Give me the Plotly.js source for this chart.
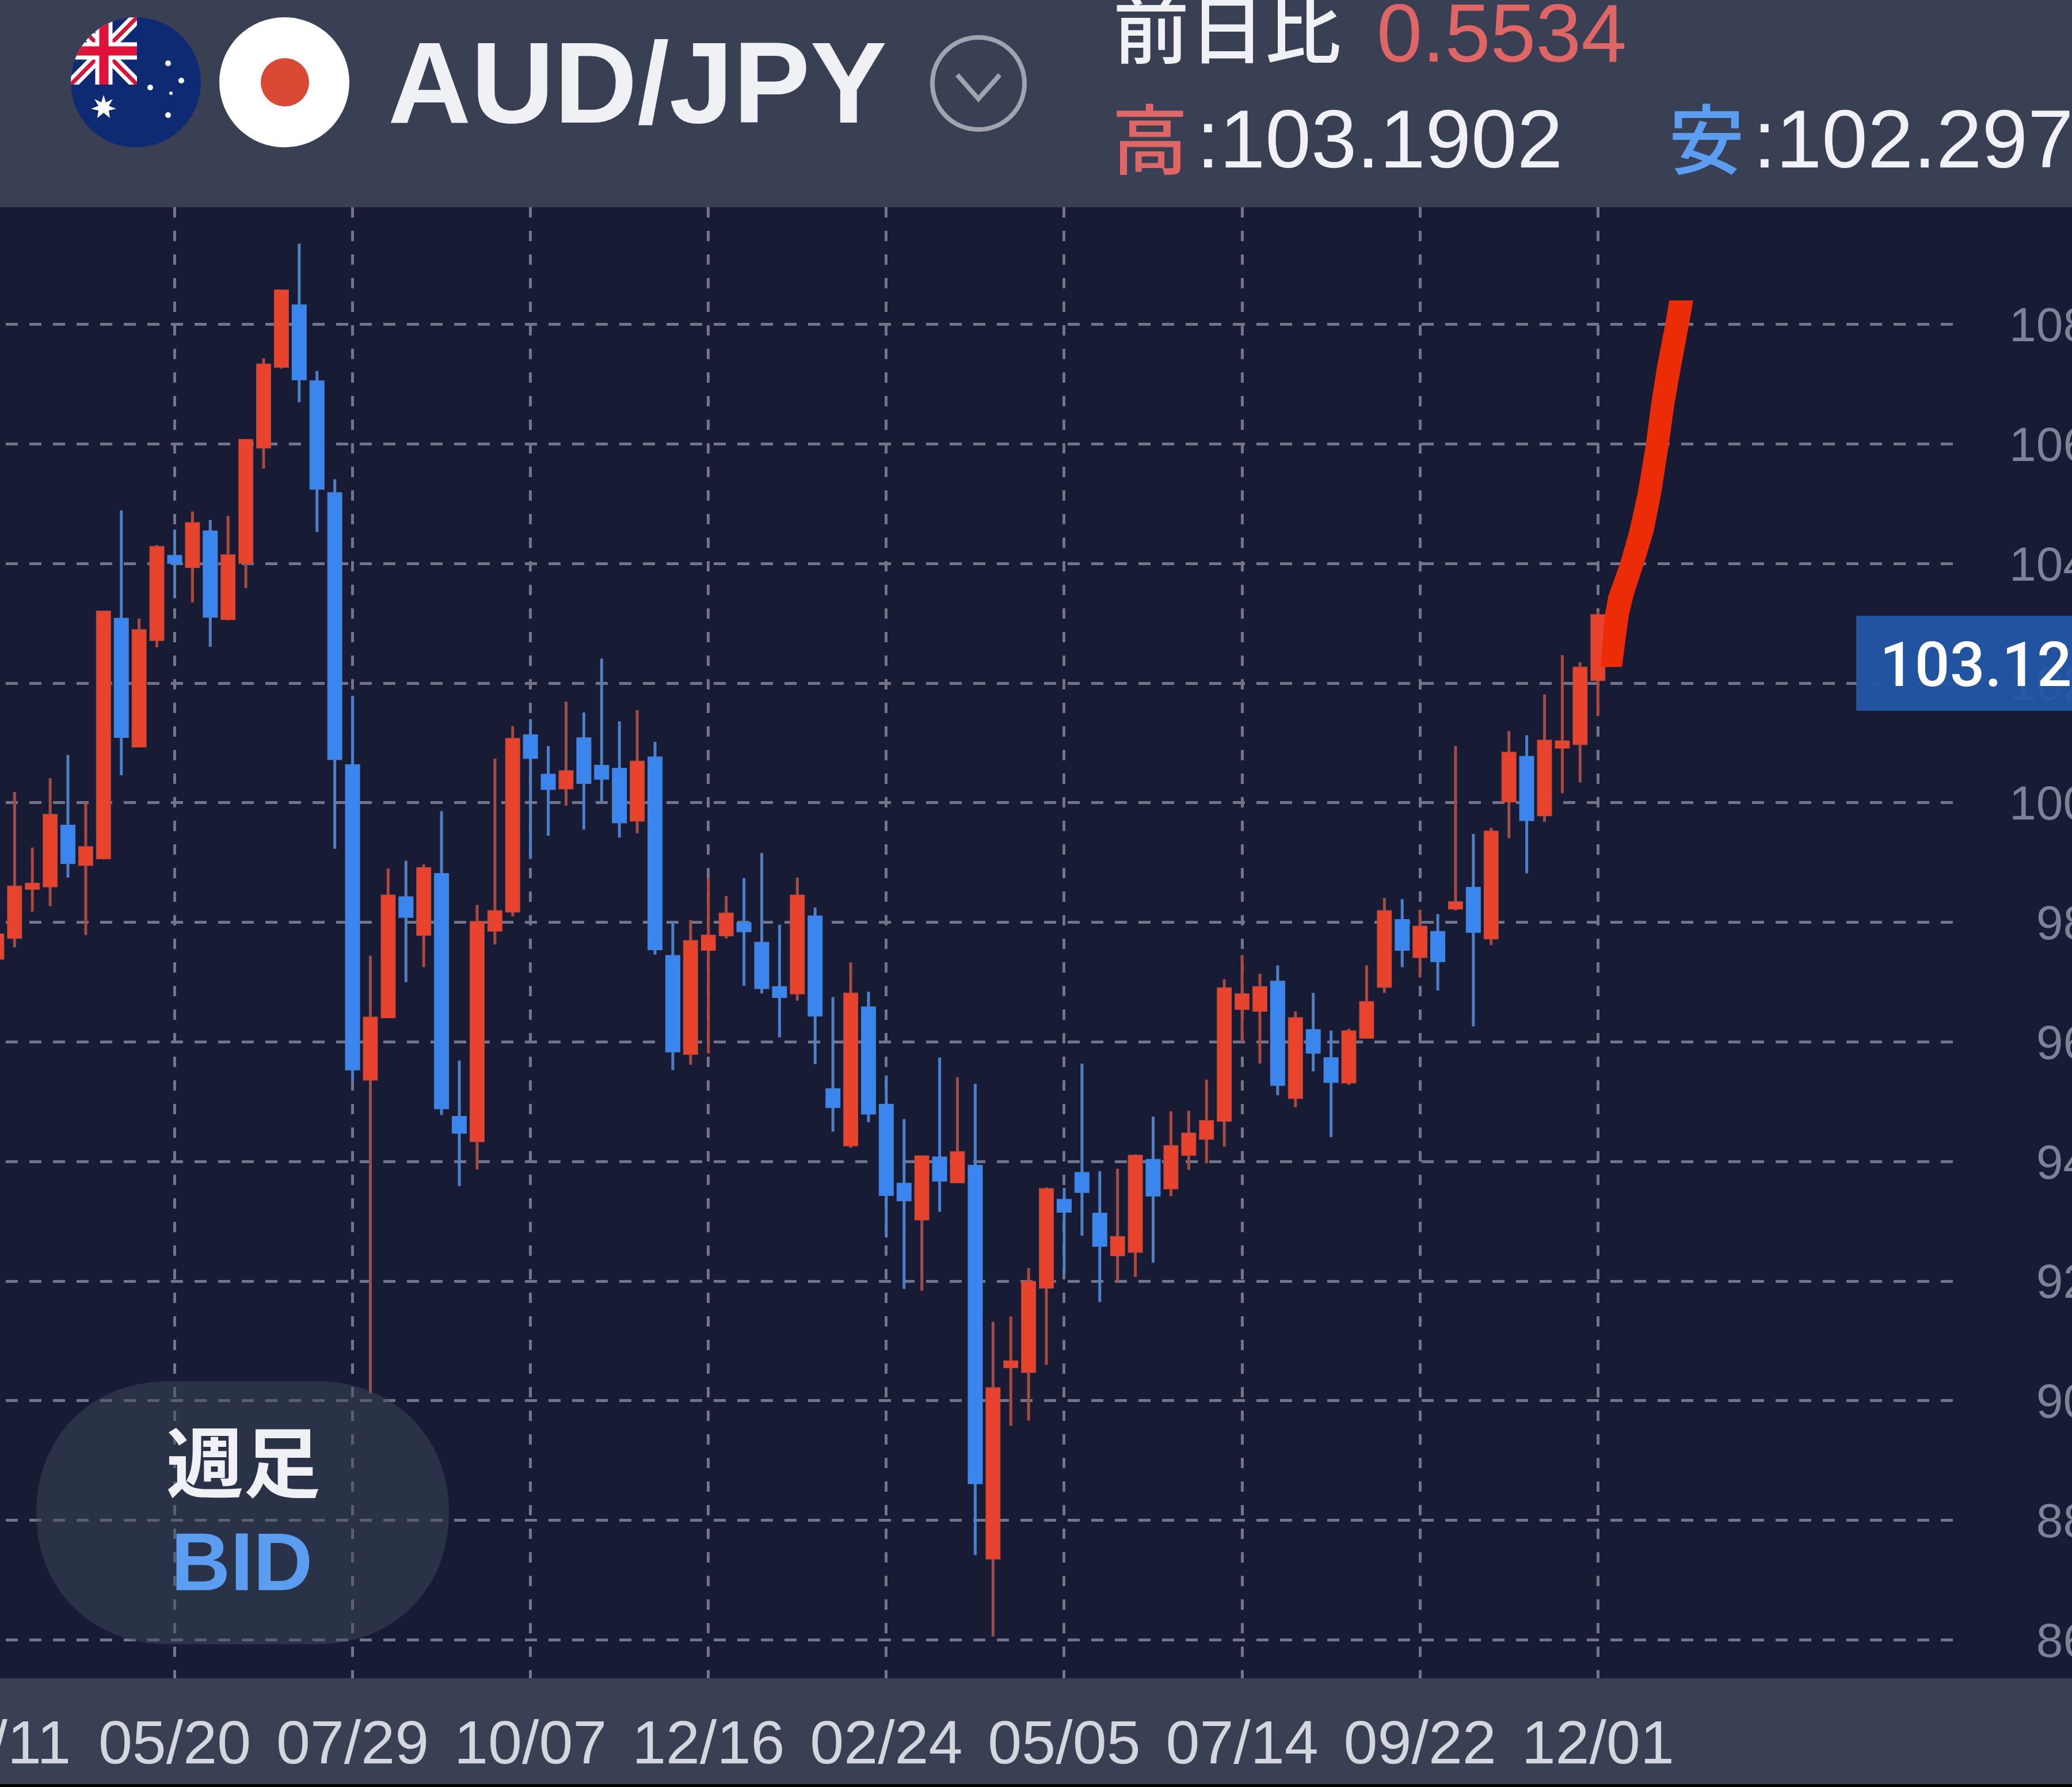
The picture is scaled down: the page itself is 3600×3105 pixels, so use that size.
<!DOCTYPE html>
<html lang="ja">
<head>
<meta charset="utf-8">
<script src="https://cdn.plot.ly/plotly-3.0.1.min.js"></script>
<style>
html,body{margin:0;padding:0;background:#000;width:3600px;height:3105px;overflow:hidden}
#chart{position:absolute;left:-400px;top:0;width:4100px;height:3100px}
</style>
</head>
<body>
<div id="chart"></div>
<script>
// Weekly candles, first one is the 03/11 week
const opens = [97.40,97.75,98.57,98.61,99.61,98.97,99.08,103.07,100.95,102.73,
104.12,103.95,104.53,103.08,104.02,105.95,107.30,108.31,107.04,105.17,
100.62,95.38,96.42,98.41,97.80,98.80,94.74,94.35,97.87,98.19,
101.12,100.46,100.25,101.07,100.61,100.56,99.71,100.75,97.43,95.81,
97.55,97.79,97.98,97.65,96.91,96.82,98.09,95.20,94.28,96.57,
94.94,93.62,93.04,94.06,93.66,93.92,87.37,90.57,90.49,91.90,
93.35,93.80,93.12,92.44,92.50,94.02,93.56,94.12,94.39,94.69,
96.56,96.53,97.00,95.07,96.19,95.72,95.33,96.08,96.93,98.03,
97.43,97.83,98.24,98.57,97.74,100.03,100.76,99.80,100.93,100.99,
102.06];
const highs = [97.85,100.18,99.25,100.41,100.80,100.01,103.20,104.89,103.08,104.31,
104.57,104.87,104.73,104.80,106.06,107.43,108.58,109.35,107.22,105.41,
101.79,97.44,98.90,99.03,98.97,99.86,95.69,98.29,100.74,101.28,
101.40,100.95,101.69,101.51,102.41,101.36,101.55,101.02,98.01,98.04,
98.74,98.44,98.74,99.16,97.96,98.75,98.25,96.75,97.33,96.84,
95.44,94.71,94.10,95.74,95.41,95.30,91.32,91.41,92.22,93.57,
93.56,95.64,93.84,93.88,94.12,94.75,94.84,94.85,95.37,97.05,
97.45,97.14,97.28,96.51,96.82,96.19,96.22,97.28,98.41,98.39,
98.21,98.14,100.95,99.48,99.58,101.20,101.13,101.81,102.47,102.35,
103.20];
const lows = [97.35,97.58,98.18,98.27,98.75,97.79,99.05,100.46,100.95,102.60,
103.42,103.35,102.61,103.05,103.59,105.59,107.26,106.70,104.53,99.23,
95.36,90.12,96.42,97.00,97.25,94.78,93.59,93.87,97.63,98.10,
99.06,99.45,99.95,99.55,100.00,99.42,99.49,97.46,95.53,95.62,
95.81,97.73,96.94,96.81,96.08,96.69,95.63,94.50,94.23,94.66,
92.73,91.87,91.84,93.16,93.66,87.42,86.06,89.58,89.67,90.60,
92.13,92.76,91.65,91.99,92.07,92.31,93.42,93.86,93.97,94.25,
96.00,95.64,95.11,94.91,95.51,94.41,95.28,96.07,96.82,97.25,
97.08,96.86,98.20,96.26,97.62,99.41,98.82,99.68,100.16,100.34,
101.45];
const closes = [97.79,98.59,98.64,99.79,99.00,99.25,103.19,101.11,102.88,104.27,
104.02,104.67,103.12,104.13,106.06,107.32,108.56,107.09,105.26,100.74,
95.55,96.40,98.44,98.10,98.90,94.90,94.49,98.00,98.18,101.06,
100.76,100.24,100.52,100.34,100.41,99.68,100.68,97.56,95.85,97.68,
97.77,98.14,97.86,96.91,96.76,98.44,96.45,94.92,96.80,94.81,
93.45,93.36,94.08,93.69,94.15,88.63,90.20,90.65,91.98,93.53,
93.17,93.50,92.60,92.73,94.09,93.44,94.25,94.46,94.67,96.89,
96.79,96.91,95.29,96.39,95.83,95.34,96.17,96.66,98.18,97.55,
97.92,97.36,98.33,97.85,99.51,100.83,99.72,101.03,101.02,102.25,
103.13];
const firstWeek = -10;
const weeks = opens.map((_, k) => k + firstWeek);

const dateTicks = [-10,0,10,20,30,40,50,60,70,80];
const dateLabels = ['03/11','05/20','07/29','10/07','12/16','02/24','05/05','07/14','09/22','12/01'];
const priceTicks = [86,88,90,92,94,96,98,100,102,104,106,108];
// Labels are right-aligned in the reference: a figure space pads the two-digit prices
const priceLabels = priceTicks.map(v => (v < 100 ? '\u2007' : '') + v);

// Hand-drawn arrow stroke: left and right edges at each price
const strokeLevels = [102.27,103.12,103.46,104.00,104.53,105.18,106.00,106.68,107.32,108.00,108.40];
const strokeLeft   = [80.16,80.38,80.59,81.24,81.75,82.24,82.70,83.00,83.34,83.78,84.01];
const strokeRight  = [81.35,81.73,82.00,82.59,83.13,83.56,83.99,84.31,84.69,85.12,85.36];

// Page pixel to paper helpers (the plot spans -400..3400 by 360..2916 on the page)
const PL=-400, PR=3400, PT=360, PB=2916;
const px = x => (x-PL)/(PR-PL);
const py = y => (PB-y)/(PB-PT);

const RED='#e8432c', BLUE='#3b86ee', RED_W='#a84a40', BLUE_W='#4e80c8';
const SOFT_RED='#e06666', SOFT_BLUE='#5b9df0', WHITE='#f0f1f4';
const SANS='"Liberation Sans", Arial, sans-serif';
const CJK='"Noto Sans CJK JP", sans-serif';

const wicks = {
  type:'candlestick', x:weeks, open:opens, high:highs, low:lows, close:closes,
  whiskerwidth:0, hoverinfo:'skip',
  increasing:{line:{color:RED_W,width:5},fillcolor:RED_W},
  decreasing:{line:{color:BLUE_W,width:5},fillcolor:BLUE_W}
};
const bodies = {
  type:'candlestick', x:weeks, open:opens, close:closes,
  high:opens.map((o,k)=>Math.max(o,closes[k])),
  low:opens.map((o,k)=>Math.min(o,closes[k])),
  whiskerwidth:0, hoverinfo:'skip',
  increasing:{line:{color:RED,width:3},fillcolor:RED},
  decreasing:{line:{color:BLUE,width:3},fillcolor:BLUE}
};
const stroke = {
  type:'scatter', mode:'lines', hoverinfo:'skip',
  x:strokeLeft.concat(strokeRight.slice().reverse()),
  y:strokeLevels.concat(strokeLevels.slice().reverse()),
  fill:'toself', fillcolor:'#ec2c06', line:{width:0,color:'#ec2c06'}
};

function box(x0,y0,x1,y1,fill,extra){
  return Object.assign({type:'rect',xref:'paper',yref:'paper',layer:'above',
    x0:px(x0),x1:px(x1),y0:py(y0),y1:py(y1),fillcolor:fill,line:{width:0}},extra||{});
}
function disc(cx,cy,r,fill,extra){
  return Object.assign({type:'circle',xref:'paper',yref:'paper',layer:'above',
    x0:px(cx-r),x1:px(cx+r),y0:py(cy-r),y1:py(cy+r),fillcolor:fill,line:{width:0}},extra||{});
}
function pill(x0,y0,x1,y1,fill){
  const r=(y1-y0)/2, k=r*0.58;
  const P=(x,y)=>px(x)+','+py(y);
  const d='M'+P(x0+r,y0)+' L'+P(x1-r,y0)+
    ' C'+P(x1-r+k,y0)+' '+P(x1,y0+r-k)+' '+P(x1,y0+r)+
    ' C'+P(x1,y1-r+k)+' '+P(x1-r+k,y1)+' '+P(x1-r,y1)+
    ' L'+P(x0+r,y1)+
    ' C'+P(x0+r-k,y1)+' '+P(x0,y1-r+k)+' '+P(x0,y0+r)+
    ' C'+P(x0,y0+r-k)+' '+P(x0+r-k,y0)+' '+P(x0+r,y0)+' Z';
  return {type:'path',xref:'paper',yref:'paper',layer:'above',path:d,fillcolor:fill,line:{width:0}};
}
function label(text,x,y,size,color,opts){
  return Object.assign({text:text,xref:'paper',yref:'paper',x:px(x),y:py(y),
    xanchor:'left',yanchor:'middle',showarrow:false,
    font:{family:SANS,size:size,color:color}},opts||{});
}
function kanji(text,x,y,size,color,weight){
  return label(text,x,y,size,color,{font:{family:CJK,size:size,color:color,weight:weight}});
}

const chevron = 'M'+px(1663)+','+py(130)+' L'+px(1700)+','+py(172)+' L'+px(1737)+','+py(130);

const auFlag = '<svg xmlns="http://www.w3.org/2000/svg" viewBox="0 0 226 226"><defs><clipPath id="c"><circle cx="113" cy="113" r="113"/></clipPath><clipPath id="q"><rect width="115" height="117"/></clipPath></defs><g clip-path="url(#c)"><rect width="226" height="226" fill="#0d2a73"/><g clip-path="url(#q)"><path d="M0 0L115 117M115 0L0 117" stroke="#fff" stroke-width="20"/><path d="M0 0L115 117M115 0L0 117" stroke="#d8143a" stroke-width="7"/><path d="M57.5 0V117M0 58.5H115" stroke="#fff" stroke-width="30"/><path d="M57.5 0V117M0 58.5H115" stroke="#e0123a" stroke-width="16"/></g><g fill="#fff"><polygon points="57,135 61,148 73,142 66,154 79,159 66,162 68,175 57,166 46,175 48,162 35,159 48,154 41,142 53,148"/><circle cx="169" cy="80" r="5"/><circle cx="169" cy="170" r="5"/><circle cx="192" cy="110" r="5"/><circle cx="138" cy="122" r="5"/><circle cx="174" cy="132" r="3"/></g></g></svg>';

const layout = {
  width:4100, height:3100, autosize:false,
  margin:{l:0,r:300,t:360,b:184,pad:0},
  paper_bgcolor:'#3a4053', plot_bgcolor:'#171c34',
  showlegend:false, boxgap:0.32, boxgroupgap:0, dragmode:false,
  xaxis:{type:'linear', range:[-22.76,100.18], rangeslider:{visible:false},
    tickmode:'array', tickvals:dateTicks, ticktext:dateLabels,
    showgrid:true, gridcolor:'#72758a', gridwidth:5, griddash:'18px,23px',
    zeroline:false, showline:false, ticks:'', ticklabelstandoff:41,
    tickfont:{family:SANS,size:106,color:'#d3d6dc'}},
  yaxis:{side:'right', range:[85.36,109.96], tickmode:'array', tickvals:priceTicks, ticktext:priceLabels,
    showgrid:true, gridcolor:'#72748a', gridwidth:5, griddash:'21px,20px',
    zeroline:false, showline:false, ticks:'', ticklabelstandoff:90,
    tickfont:{family:SANS,size:84,color:'#7c8399'}},
  images:[{source:'data:image/svg+xml;utf8,'+encodeURIComponent(auFlag),
    xref:'paper',yref:'paper',x:px(123),y:py(30),sizex:px(349)-px(123),sizey:py(30)-py(256),
    sizing:'stretch',xanchor:'left',yanchor:'top',layer:'above'}],
  shapes:[
    box(3400,360,3700,2916,'#171c34',{layer:'below'}),
    disc(494,143,113,'#ffffff'),
    disc(495,143,42,'#d94a35'),
    disc(1700,145,80,'rgba(0,0,0,0)',{line:{color:'#a0a4ae',width:8}}),
    {type:'path',xref:'paper',yref:'paper',layer:'above',path:chevron,line:{color:'#a0a4ae',width:8}},
    pill(63,2400,780,2857,'rgba(62,72,92,0.5)'),
    box(3225,1070,3700,1235,'rgba(34,86,168,0.95)')
  ],
  annotations:[
    label('AUD/JPY',672,143,200,WHITE,{font:{family:SANS,size:200,color:WHITE,weight:700}}),
    kanji('前日比',1932,43,132,WHITE,500),
    label('0.5534',2390,58,142,SOFT_RED),
    kanji('高',1930,235,132,SOFT_RED,500),
    label(':103.1902',2077,241,143,WHITE),
    kanji('安',2897,235,132,SOFT_BLUE,500),
    label(':102.297',3044,241,143,WHITE),
    kanji('週足',287,2534,134,WHITE,700),
    label('BID',295,2713,143,SOFT_BLUE,{font:{family:SANS,size:143,color:SOFT_BLUE,weight:700}}),
    label('103.12',3264,1155,107,'#ffffff',{font:{family:'Roboto, sans-serif',size:107,color:'#ffffff',weight:500}})
  ]
};

Plotly.newPlot('chart',[wicks,bodies,stroke],layout,{staticPlot:true,displayModeBar:false});
</script>
</body>
</html>
